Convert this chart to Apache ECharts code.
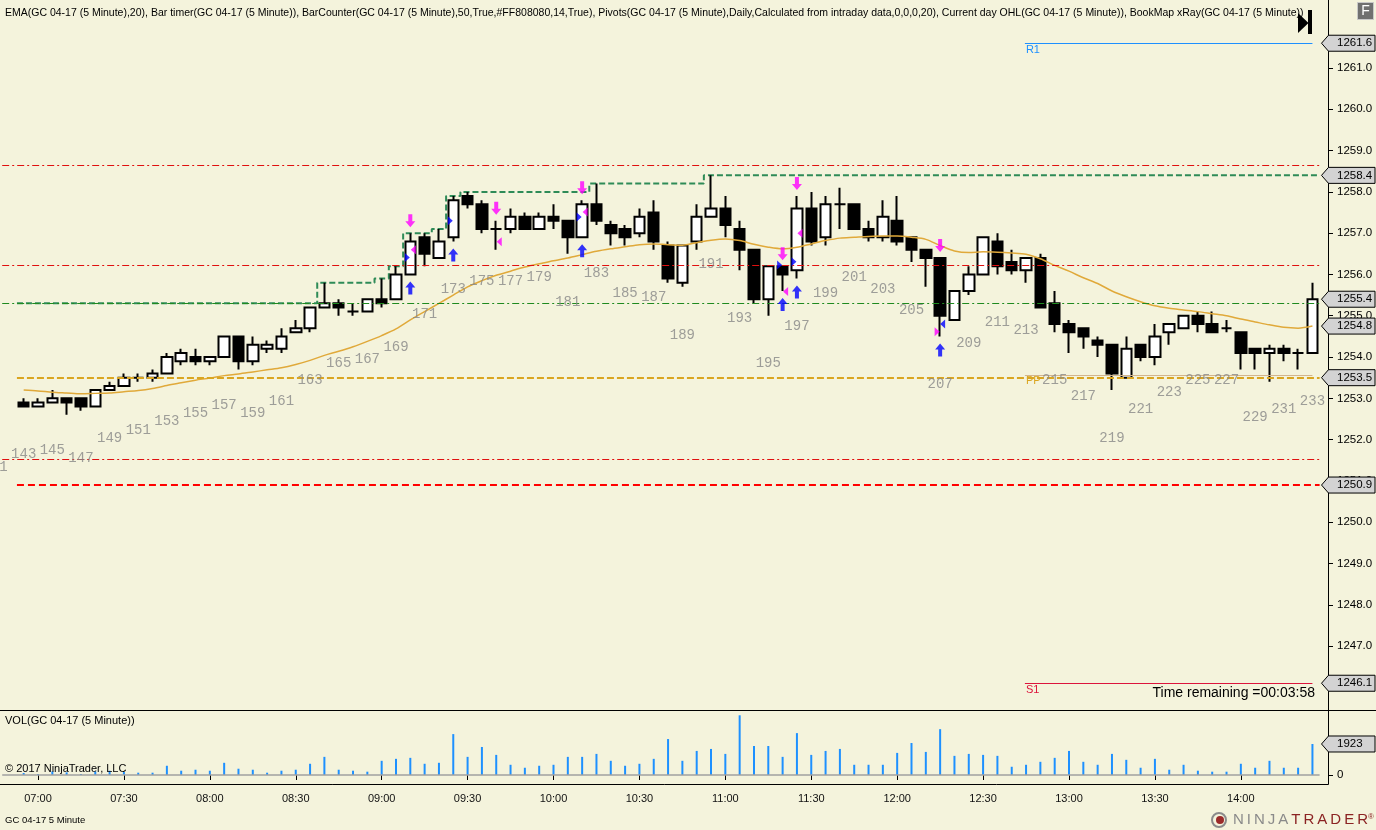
<!DOCTYPE html>
<html>
<head>
<meta charset="utf-8">
<title>GC 04-17 5 Minute</title>
<script src="https://cdn.jsdelivr.net/npm/echarts@6/dist/echarts.min.js"></script>
<style>
html,body{margin:0;padding:0;background:#F4F3DC;}
#main{width:1376px;height:830px;}
</style>
</head>
<body>
<div id="main"></div>
<script>
// first slot (142) is empty, bars with data start at 143
var firstBar = 142;
var lastBar = 233;

var opens = [1252.9,1252.8,1252.9,1253.0,1253.0,1252.8,1253.2,1253.3,1253.5,1253.5,
  1253.6,1253.9,1254.0,1253.9,1254.0,1254.5,1253.9,1254.2,1254.2,1254.6,
  1254.7,1255.2,1255.3,1255.1,1255.1,1255.4,1255.4,1256.0,1256.9,1256.4,
  1256.9,1257.9,1257.7,1257.1,1257.1,1257.4,1257.1,1257.4,1257.3,1256.9,
  1257.7,1257.2,1257.1,1257.0,1257.5,1256.7,1255.8,1256.8,1257.4,1257.6,
  1257.1,1256.6,1255.4,1256.2,1256.1,1257.6,1256.9,1257.7,1257.7,1257.1,
  1256.9,1257.3,1256.9,1256.6,1256.4,1254.9,1255.6,1256.0,1256.8,1256.3,
  1256.1,1256.4,1255.3,1254.8,1254.7,1254.4,1254.3,1253.5,1254.3,1254.0,
  1254.6,1254.7,1255.0,1254.8,1254.7,1254.6,1254.2,1254.1,1254.2,1254.1,
  1254.1];
var highs = [1253.0,1253.0,1253.2,1253.0,1253.0,1253.2,1253.4,1253.6,1253.6,1253.7,
  1254.1,1254.2,1254.2,1254.0,1254.5,1254.5,1254.5,1254.4,1254.7,1254.9,
  1255.2,1255.8,1255.4,1255.3,1255.4,1255.9,1256.2,1257.0,1257.0,1257.1,
  1257.9,1258.0,1257.8,1257.3,1257.6,1257.5,1257.5,1257.7,1257.3,1257.8,
  1258.2,1257.3,1257.2,1257.6,1257.8,1256.8,1256.7,1257.7,1258.4,1257.9,
  1257.3,1256.6,1256.2,1256.2,1257.9,1258.0,1257.9,1258.1,1257.7,1257.3,
  1257.8,1257.9,1256.9,1256.6,1256.4,1255.6,1256.2,1256.9,1257.0,1256.6,
  1256.4,1256.5,1255.6,1254.9,1254.7,1254.5,1254.3,1254.5,1254.3,1254.8,
  1254.8,1255.0,1255.1,1255.1,1254.9,1254.6,1254.2,1254.3,1254.3,1254.2,
  1255.8];
var lows = [1252.8,1252.8,1252.9,1252.6,1252.7,1252.8,1253.2,1253.3,1253.4,1253.4,
  1253.6,1253.8,1253.8,1253.8,1254.0,1253.7,1253.8,1254.1,1254.1,1254.6,
  1254.6,1255.2,1255.0,1255.0,1255.1,1255.2,1255.4,1256.0,1256.2,1256.4,
  1256.8,1257.6,1257.0,1256.6,1257.0,1257.1,1257.1,1257.1,1256.5,1256.9,
  1257.2,1256.7,1256.7,1256.9,1256.6,1255.8,1255.7,1256.6,1257.4,1256.9,
  1256.1,1255.3,1255.0,1255.6,1255.9,1256.7,1256.7,1257.1,1257.1,1256.8,
  1256.8,1256.7,1256.3,1255.7,1254.5,1254.9,1255.5,1256.0,1256.0,1256.0,
  1255.8,1255.2,1254.6,1254.1,1254.2,1254.0,1253.2,1253.5,1253.9,1253.8,
  1254.3,1254.7,1254.6,1254.6,1254.6,1253.7,1253.7,1253.4,1253.9,1253.7,
  1254.1];
var closes = [1252.8,1252.9,1253.0,1252.9,1252.8,1253.2,1253.3,1253.5,1253.5,1253.6,
  1254.0,1254.1,1253.9,1254.0,1254.5,1253.9,1254.3,1254.3,1254.5,1254.7,
  1255.2,1255.3,1255.2,1255.1,1255.4,1255.3,1256.0,1256.8,1256.5,1256.8,
  1257.8,1257.7,1257.1,1257.1,1257.4,1257.1,1257.4,1257.3,1256.9,1257.7,
  1257.3,1257.0,1256.9,1257.4,1256.8,1255.9,1256.7,1257.4,1257.6,1257.2,
  1256.6,1255.4,1256.2,1256.0,1257.6,1256.8,1257.7,1257.7,1257.1,1256.9,
  1257.4,1256.8,1256.6,1256.4,1255.0,1255.6,1256.0,1256.9,1256.2,1256.1,
  1256.4,1255.2,1254.8,1254.6,1254.5,1254.3,1253.6,1254.2,1254.0,1254.5,
  1254.8,1255.0,1254.8,1254.6,1254.7,1254.1,1254.1,1254.2,1254.1,1254.1,
  1255.4];
var volumes = [123,60,225,164,61,225,266,184,143,143,
  573,266,327,266,757,389,327,143,266,327,
  696,1125,327,266,205,880,1002,1064,696,757,
  2537,1125,1739,1248,634,450,573,634,1125,1125,
  1309,880,573,696,1002,2230,880,1493,1616,1309,
  3703,1800,1800,1125,2598,1248,1493,1616,634,634,
  634,1371,1984,1432,2843,1187,1309,1248,1187,511,
  634,818,1064,1493,818,634,1309,941,450,1002,
  327,634,266,205,205,696,450,880,450,450,
  1923];
var ema20 = [1253.20,1253.18,1253.15,1253.13,1253.11,1253.12,1253.13,1253.16,1253.19,1253.24,
  1253.31,1253.38,1253.44,1253.49,1253.55,1253.59,1253.64,1253.69,1253.74,1253.82,
  1253.92,1254.04,1254.14,1254.25,1254.38,1254.52,1254.68,1254.90,1255.10,1255.30,
  1255.50,1255.70,1255.85,1255.98,1256.08,1256.18,1256.26,1256.33,1256.40,1256.48,
  1256.56,1256.62,1256.67,1256.72,1256.74,1256.72,1256.71,1256.77,1256.83,1256.86,
  1256.82,1256.73,1256.66,1256.62,1256.66,1256.74,1256.82,1256.88,1256.90,1256.92,
  1256.93,1256.93,1256.90,1256.85,1256.70,1256.57,1256.53,1256.55,1256.54,1256.52,
  1256.49,1256.38,1256.22,1256.08,1255.92,1255.78,1255.60,1255.46,1255.34,1255.24,
  1255.18,1255.14,1255.10,1255.05,1255.00,1254.92,1254.85,1254.78,1254.72,1254.70,
  1254.75];

// bar 141 sits just left of the chart, only its counter label peeks in
var bar141Low = 1252.5;

var timeLabels = ['07:00','07:30','08:00','08:30','09:00','09:30','10:00','10:30',
  '11:00','11:30','12:00','12:30','13:00','13:30','14:00'];
var firstLabelBar = 144;

// Current day OHL / pivots / xRay levels
var priorHigh = 1255.3;
var dayOpen = 1253.5;
var dayLow = 1250.9;
var pivotR1 = 1261.6;
var pivotPP = 1253.56;
var pivotS1 = 1246.1;
var xrayRedLevels = [1258.65, 1256.22, 1251.52];
var xrayGreenLevels = [1255.3];

// BookMap xRay signals
var buyArrowBars = [170, 173, 182, 196, 197, 207];
var sellArrowBars = [170, 176, 182, 196, 197, 207];
var blueRightMarks = [[170,1256.41],[173,1257.30],[182,1257.39],[196,1256.23],[197,1256.31]];
var magentaLeftMarks = [[170,1256.60],[176,1256.79],[182,1257.51],[196,1255.59],[197,1257.00]];
var magentaRightMarks = [[207,1254.61]];
var blueLeftMarks = [[207,1254.80]];

var cats = [];
for (var n = firstBar; n <= lastBar; n++) cats.push(String(n));

var candleData = ['-'];
var volData = ['-'];
for (var i = 0; i < opens.length; i++) {
  candleData.push([opens[i], closes[i], lows[i], highs[i]]);
  volData.push(volumes[i]);
}
var emaData = ema20.map(function (v, i) { return [143 + i, v]; });

var dayHighData = [];
var hh = priorHigh;
for (var i = 0; i < highs.length; i++) {
  hh = Math.max(hh, highs[i]);
  dayHighData.push([143 + i, hh]);
}
dayHighData.unshift([142.53, dayHighData[0][1]]);
dayHighData.push([233.5, hh]);

var counterData = [[141, bar141Low, 141]];
for (var i = 0; i < lows.length; i++) {
  var bn = 143 + i;
  if (bn % 2 === 1) counterData.push([bn, lows[i], bn]);
}
var buyData = buyArrowBars.map(function (b) { return [b, lows[b - 143]]; });
var sellData = sellArrowBars.map(function (b) { return [b, highs[b - 143]]; });

var FONT = 'Liberation Sans, Arial, sans-serif';
var GRID_L = 2.2, GRID_W = 1317.4;

var upArrow = 'path://M5,0 L10,6 L7,6 L7,13 L3,13 L3,6 L0,6 Z';
var downArrow = 'path://M3,0 L7,0 L7,7 L10,7 L5,13 L0,7 L3,7 Z';
var triRight = 'path://M0,0 L5,4.5 L0,9 Z';
var triLeft = 'path://M5,0 L0,4.5 L5,9 Z';

function hLine(v, color, width, type) {
  return { yAxis: v, lineStyle: { color: color, width: width, type: type } };
}
function seg(x1, x2, v, color, width, type) {
  return [{ coord: [x1, v], lineStyle: { color: color, width: width, type: type } }, { coord: [x2, v] }];
}

var levelLines = [];
xrayRedLevels.forEach(function (v) { levelLines.push(hLine(v, '#e01010', 1, [7, 3, 2, 3])); });
xrayGreenLevels.forEach(function (v) { levelLines.push(hLine(v, '#1f8a1f', 1, [7, 3, 2, 3])); });
levelLines.push(seg(142.53, 233.5, dayOpen, '#DAA520', 2, [7, 3]));
levelLines.push(seg(142.53, 233.5, dayLow, '#ff0000', 2, [7, 4]));
levelLines.push(seg(212.92, 233, pivotR1, '#1E90FF', 1, 'solid'));
levelLines.push(seg(212.92, 233, pivotPP, '#D2B48C', 1, 'solid'));
levelLines.push(seg(212.92, 233, pivotS1, '#DC143C', 1, 'solid'));

var chart = echarts.init(document.getElementById('main'));

var option = {
  animation: false,
  backgroundColor: '#F4F3DC',
  grid: [
    { left: GRID_L, width: GRID_W, top: 0, height: 709 },
    { left: GRID_L, width: GRID_W, top: 711, height: 64 }
  ],
  xAxis: [
    { type: 'category', gridIndex: 0, data: cats, boundaryGap: true, show: false },
    {
      type: 'category', gridIndex: 1, data: cats, boundaryGap: true, offset: 9,
      axisLine: { show: false },
      axisTick: {
        show: true, alignWithLabel: true, length: 5, lineStyle: { color: '#000' },
        interval: function (idx) { var b = idx + firstBar; return b >= firstLabelBar && (b - firstLabelBar) % 6 === 0; }
      },
      axisLabel: {
        margin: 9, color: '#111', fontFamily: FONT, fontSize: 11,
        interval: function (idx) { var b = idx + firstBar; return b >= firstLabelBar && (b - firstLabelBar) % 6 === 0; },
        formatter: function (v, idx) { var b = idx + firstBar; return timeLabels[(b - firstLabelBar) / 6] || ''; }
      },
      splitLine: { show: false }
    },
    { type: 'value', gridIndex: 0, min: firstBar - 0.5, max: lastBar + 0.5, show: false }
  ],
  yAxis: [
    {
      type: 'value', gridIndex: 0, position: 'right', offset: 8.4,
      min: 1245.476, max: 1262.647,
      axisLine: { show: true, lineStyle: { color: '#000' } },
      axisTick: { show: true, length: 5, lineStyle: { color: '#000' }, customValues: [1247,1248,1249,1250,1251,1252,1253,1254,1255,1256,1257,1258,1259,1260,1261] },
      axisLabel: {
        margin: 9, color: '#000', fontFamily: FONT, fontSize: 11.5,
        customValues: [1247,1248,1249,1250,1251,1252,1253,1254,1255,1256,1257,1258,1259,1260,1261],
        formatter: function (v) { return v.toFixed(1); }
      },
      splitLine: { show: false }
    },
    {
      type: 'value', gridIndex: 1, position: 'right', offset: 8.4, min: 0, max: 3970,
      axisLine: { show: true, lineStyle: { color: '#000' } },
      axisTick: { show: true, length: 5, lineStyle: { color: '#000' }, customValues: [0] },
      axisLabel: { margin: 9, color: '#000', fontFamily: FONT, fontSize: 11.5, customValues: [0] },
      splitLine: { show: false }
    }
  ],
  series: [
    {
      type: 'line', xAxisIndex: 2, yAxisIndex: 0, data: [[lastBar, closes[closes.length - 1]]],
      showSymbol: false, lineStyle: { width: 0 }, silent: true, z: 1,
      markLine: { silent: true, symbol: 'none', label: { show: false }, animation: false, data: levelLines }
    },
    {
      type: 'line', name: 'dayHigh', xAxisIndex: 2, yAxisIndex: 0, data: dayHighData,
      step: 'middle', showSymbol: false, silent: true, z: 2,
      lineStyle: { color: '#2E8B57', width: 2, type: [6, 3] }
    },
    {
      type: 'candlestick', xAxisIndex: 0, yAxisIndex: 0, data: candleData, barWidth: 11, z: 3,
      itemStyle: { color: '#ffffff', color0: '#000000', borderColor: '#000000', borderColor0: '#000000', borderWidth: 2 }
    },
    {
      type: 'line', name: 'EMA', xAxisIndex: 2, yAxisIndex: 0, data: emaData, smooth: 0.3,
      showSymbol: false, silent: true, z: 4, lineStyle: { color: '#E0A93A', width: 1.5 }
    },
    {
      type: 'scatter', xAxisIndex: 2, yAxisIndex: 0, data: counterData, symbolSize: 0.1, z: 5, silent: true,
      clip: false,
      itemStyle: { color: 'transparent' },
      label: {
        show: true, position: 'inside', offset: [0, 48], color: '#878787',
        fontFamily: 'Liberation Mono, DejaVu Sans Mono, monospace', fontSize: 14,
        formatter: function (p) { return p.value[2]; }
      }
    },
    {
      type: 'scatter', xAxisIndex: 2, yAxisIndex: 0, data: buyData, symbol: upArrow, symbolSize: [10, 13],
      symbolOffset: [0, 13.5], itemStyle: { color: '#0000ff' }, z: 6, silent: true
    },
    {
      type: 'scatter', xAxisIndex: 2, yAxisIndex: 0, data: sellData, symbol: downArrow, symbolSize: [10, 13],
      symbolOffset: [0, -12.5], itemStyle: { color: '#ff00ff' }, z: 6, silent: true
    },
    {
      type: 'scatter', xAxisIndex: 2, yAxisIndex: 0, data: blueRightMarks, symbol: triRight, symbolSize: [5, 9],
      symbolOffset: [-3, 0], itemStyle: { color: '#0000ff' }, z: 6, silent: true
    },
    {
      type: 'scatter', xAxisIndex: 2, yAxisIndex: 0, data: magentaLeftMarks, symbol: triLeft, symbolSize: [5, 9],
      symbolOffset: [3, 0], itemStyle: { color: '#ff00ff' }, z: 6, silent: true
    },
    {
      type: 'scatter', xAxisIndex: 2, yAxisIndex: 0, data: magentaRightMarks, symbol: triRight, symbolSize: [5, 9],
      symbolOffset: [-3, 0], itemStyle: { color: '#ff00ff' }, z: 6, silent: true
    },
    {
      type: 'scatter', xAxisIndex: 2, yAxisIndex: 0, data: blueLeftMarks, symbol: triLeft, symbolSize: [5, 9],
      symbolOffset: [2.5, 0], itemStyle: { color: '#0000ff' }, z: 6, silent: true
    },
    {
      type: 'bar', xAxisIndex: 1, yAxisIndex: 1, data: volData, barWidth: 2,
      itemStyle: { color: '#1E90FF' }, silent: true,
      markLine: { silent: true, symbol: 'none', label: { show: false }, data: [{ yAxis: 0, lineStyle: { color: '#a0a0a0', width: 1.5, type: 'solid' } }] }
    }
  ]
};
chart.setOption(option);

// axis tags and panel decorations
function py(v) { return chart.convertToPixel({ yAxisIndex: 0 }, v); }
function tag(y, text) {
  return [
    { type: 'polygon', z: 100, shape: { points: [[1321.5, y], [1328.5, y - 8], [1375, y - 8], [1375, y + 8], [1328.5, y + 8]] },
      style: { fill: '#D3D3D3', stroke: '#000', lineWidth: 1 } },
    { type: 'text', z: 101, x: 1337, y: y, style: { text: text, fill: '#000', font: '11.5px ' + FONT, verticalAlign: 'middle' } }
  ];
}
var g = [];
g.push({ type: 'line', z: 90, shape: { x1: 0, y1: 710.5, x2: 1376, y2: 710.5 }, style: { stroke: '#000', lineWidth: 1 } });
g.push({ type: 'line', z: 90, shape: { x1: 0, y1: 784.5, x2: 1328.5, y2: 784.5 }, style: { stroke: '#000', lineWidth: 1 } });
g.push({ type: 'line', z: 90, shape: { x1: 1328.5, y1: 0, x2: 1328.5, y2: 784.5 }, style: { stroke: '#000', lineWidth: 1 } });

var lastClose = closes[closes.length - 1];
var lastEma = ema20[ema20.length - 1];
[pivotR1, hh, lastClose, lastEma, dayOpen, dayLow, pivotS1].forEach(function (v) {
  g = g.concat(tag(py(v), v.toFixed(1)));
});
g = g.concat(tag(chart.convertToPixel({ yAxisIndex: 1 }, volumes[volumes.length - 1]), String(volumes[volumes.length - 1])));

var pivX = chart.convertToPixel({ xAxisIndex: 2 }, 212.92);
g.push({ type: 'text', z: 50, x: pivX + 1, y: py(pivotR1) + 7, style: { text: 'R1', fill: '#1E90FF', font: '11px ' + FONT, verticalAlign: 'middle' } });
g.push({ type: 'text', z: 50, x: pivX + 1, y: py(pivotPP) + 6, style: { text: 'PP', fill: '#DAA520', font: '11px ' + FONT, verticalAlign: 'middle' } });
g.push({ type: 'text', z: 50, x: pivX + 1, y: py(pivotS1) + 7, style: { text: 'S1', fill: '#DC143C', font: '11px ' + FONT, verticalAlign: 'middle' } });

g.push({ type: 'text', z: 60, x: 5, y: 13, style: { text: 'EMA(GC 04-17 (5 Minute),20), Bar timer(GC 04-17 (5 Minute)), BarCounter(GC 04-17 (5 Minute),50,True,#FF808080,14,True), Pivots(GC 04-17 (5 Minute),Daily,Calculated from intraday data,0,0,0,20), Current day OHL(GC 04-17 (5 Minute)), BookMap xRay(GC 04-17 (5 Minute))', fill: '#000', font: '10.5px ' + FONT, verticalAlign: 'middle' } });
g.push({ type: 'text', z: 60, x: 1315, y: 693, style: { text: 'Time remaining =00:03:58', fill: '#000', font: '14px ' + FONT, align: 'right', verticalAlign: 'middle' } });
g.push({ type: 'text', z: 60, x: 5, y: 721, style: { text: 'VOL(GC 04-17 (5 Minute))', fill: '#000', font: '11px ' + FONT, verticalAlign: 'middle' } });
g.push({ type: 'text', z: 60, x: 5, y: 769, style: { text: '\u00a9 2017 NinjaTrader, LLC', fill: '#000', font: '11px ' + FONT, verticalAlign: 'middle' } });
g.push({ type: 'text', z: 60, x: 5, y: 820, style: { text: 'GC 04-17 5 Minute', fill: '#000', font: '9.5px ' + FONT, verticalAlign: 'middle' } });

// top right buttons
g.push({ type: 'polygon', z: 60, shape: { points: [[1298, 13], [1308.5, 23], [1298, 33]] }, style: { fill: '#000' } });
g.push({ type: 'rect', z: 60, shape: { x: 1308, y: 10, width: 4, height: 24 }, style: { fill: '#000' } });
g.push({ type: 'rect', z: 60, shape: { x: 1357.5, y: 2.5, width: 16, height: 17 }, style: { fill: '#707070', stroke: '#c8c8c8', lineWidth: 1 } });
g.push({ type: 'text', z: 61, x: 1365.5, y: 11.5, style: { text: 'F', fill: '#fff', font: '14px ' + FONT, align: 'center', verticalAlign: 'middle' } });

// NinjaTrader logo
g.push({ type: 'circle', z: 60, shape: { cx: 1219, cy: 820, r: 7 }, style: { fill: 'none', stroke: '#8b8b8b', lineWidth: 2 } });
g.push({ type: 'circle', z: 60, shape: { cx: 1220, cy: 820, r: 4 }, style: { fill: '#9b2a2a' } });
g.push({ type: 'text', z: 60, x: 1233, y: 820, style: {
  text: '{a|N\u2009I\u2009N\u2009J\u2009A\u2009}{b|T\u2009R\u2009A\u2009D\u2009E\u2009R}{c|\u00ae}', verticalAlign: 'middle',
  rich: {
    a: { fill: '#8a8a8a', font: '15px ' + FONT },
    b: { fill: '#8b2323', font: '15px ' + FONT },
    c: { fill: '#8b2323', font: '8px ' + FONT, verticalAlign: 'top' }
  }
} });

chart.setOption({ graphic: g });
</script>
</body>
</html>
